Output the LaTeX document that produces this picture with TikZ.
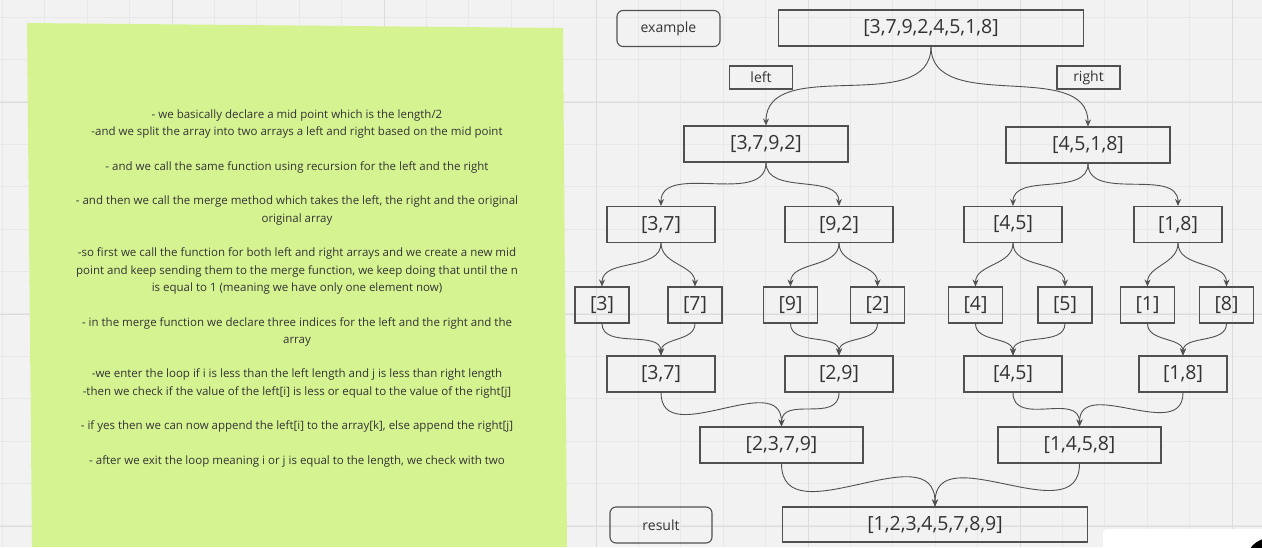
\documentclass[tikz,border=0pt]{standalone}
\usepackage{fontspec}
\setmainfont{Open Sans}
\usetikzlibrary{arrows.meta}
\definecolor{board}{HTML}{F2F2F2}
\definecolor{gridln}{HTML}{E8E8E8}
\definecolor{gridmaj}{HTML}{DCDCDC}
\definecolor{sticky}{HTML}{D5F391}
\definecolor{ink}{HTML}{333333}
\definecolor{edge}{HTML}{505050}

\begin{document}
\begin{tikzpicture}[x=1pt,y=-1pt,
  box/.style={draw=edge,line width=1.1pt,minimum height=36pt,inner sep=0pt,
    text=ink,font=\fontsize{19.5}{22}\selectfont},
  tag/.style={draw=edge,line width=1.1pt,rounded corners=6pt,minimum width=103pt,
    minimum height=36pt,inner sep=0pt,text=ink,font=\fontsize{14}{16}\selectfont},
  side/.style={draw=edge,line width=1.1pt,minimum width=63pt,minimum height=23pt,
    inner sep=0pt,text=ink,font=\fontsize{14}{16}\selectfont},
  note/.style={align=center,inner sep=0pt,anchor=north,text=ink,
    font=\fontsize{11.5}{17.3}\selectfont},
  arr/.style={-{Stealth[length=7pt,width=6pt]},edge,line width=0.9pt,out=-90,in=90}]
\useasboundingbox (0,0) rectangle (1262,547);
\fill[board] (0,0) rectangle (1262,547);
% board grid
\foreach \k in {0,...,29}
  \draw[gridln,line width=0.8pt] ({2.4+42.4*\k},0) -- ({2.4+42.4*\k},547);
\foreach \k in {0,...,12}
  \draw[gridln,line width=0.8pt] (0,{17+42.4*\k}) -- (1262,{17+42.4*\k});
\foreach \k in {0,...,5}
  \draw[gridmaj,line width=0.8pt] ({172+212*\k},0) -- ({172+212*\k},547);
\foreach \k in {0,...,2}
  \draw[gridmaj,line width=0.8pt] (0,{102+212*\k}) -- (1262,{102+212*\k});

% sticky note
\fill[sticky] (27,23) -- (563,28) -- (567,547) -- (32,547) -- cycle;
\node[note] (memo) at (297,109.5) {- we basically declare a mid point which is the length/2\\
-and we split the array into two arrays a left and right based on the mid point\\[17.3pt]
- and we call the same function using recursion for the left and the right\\[17.3pt]
- and then we call the merge method which takes the left, the right and the original\\
original array\\[17.3pt]
-so first we call the function for both left and right arrays and we create a new mid\\
point and keep sending them to the merge function, we keep doing that until the n\\
is equal to 1 (meaning we have only one element now)\\[17.3pt]
- in the merge function we declare three indices for the left and the right and the\\
array\\[17.3pt]
-we enter the loop if i is less than the left length and j is less than right length\\
-then we check if the value of the left[i] is less or equal to the value of the right[j]\\[17.3pt]
- if yes then we can now append the left[i] to the array[k], else append the right[j]\\[17.3pt]
- after we exit the loop meaning i or j is equal to the length, we check with two};

% split
\node[tag] (ex) at (668.5,28.5) {example};
\node[box,minimum width=305pt] (root) at (931,28) {[3,7,9,2,4,5,1,8]};
\node[side] (lefttag) at (761,77.5) {left};
\node[side] (righttag) at (1088.5,77.5) {right};
\node[box,minimum width=164pt] (l) at (766,144) {[3,7,9,2]};
\node[box,minimum width=164pt] (r) at (1088,145) {[4,5,1,8]};
\node[box,minimum width=108pt] (ll) at (661,224.5) {[3,7]};
\node[box,minimum width=108pt] (lr) at (839,224.5) {[9,2]};
\node[box,minimum width=98pt] (rl) at (1013,224.5) {[4,5]};
\node[box,minimum width=88pt] (rr) at (1178,224.5) {[1,8]};
\node[box,minimum width=54pt] (a3) at (602,305) {[3]};
\node[box,minimum width=54pt] (a7) at (695,305) {[7]};
\node[box,minimum width=54pt] (a9) at (790.5,305) {[9]};
\node[box,minimum width=54pt] (a2) at (877.5,305) {[2]};
\node[box,minimum width=54pt] (a4) at (975.5,305) {[4]};
\node[box,minimum width=54pt] (a5) at (1065,305) {[5]};
\node[box,minimum width=54pt] (a1) at (1147.5,305) {[1]};
\node[box,minimum width=54pt] (a8) at (1226.5,305) {[8]};
% merge
\node[box,minimum width=108pt] (m37) at (661,374) {[3,7]};
\node[box,minimum width=108pt] (m29) at (839,374) {[2,9]};
\node[box,minimum width=98pt] (m45) at (1013,374) {[4,5]};
\node[box,minimum width=88pt] (m18) at (1183,374) {[1,8]};
\node[box,minimum width=163pt] (ml) at (781.5,445) {[2,3,7,9]};
\node[box,minimum width=163pt] (mr) at (1079.5,445) {[1,4,5,8]};
\node[tag,minimum width=102pt] (restag) at (661,525) {result};
\node[box,minimum width=305pt,minimum height=35pt] (res) at (935,524.5) {[1,2,3,4,5,7,8,9]};

\draw[arr] (root.south) to (l.north);
\draw[arr] (root.south) to (r.north);
\draw[arr] (l.south) to (ll.north);
\draw[arr] (l.south) to (lr.north);
\draw[arr] (r.south) to (rl.north);
\draw[arr] (r.south) to (rr.north);
\draw[arr] (ll.south) to (a3.north);
\draw[arr] (ll.south) to (a7.north);
\draw[arr] (lr.south) to (a9.north);
\draw[arr] (lr.south) to (a2.north);
\draw[arr] (rl.south) to (a4.north);
\draw[arr] (rl.south) to (a5.north);
\draw[arr] (rr.south) to (a1.north);
\draw[arr] (rr.south) to (a8.north);
\draw[arr] (a3.south) to (m37.north);
\draw[arr] (a7.south) to (m37.north);
\draw[arr] (a9.south) to (m29.north);
\draw[arr] (a2.south) to (m29.north);
\draw[arr] (a4.south) to (m45.north);
\draw[arr] (a5.south) to (m45.north);
\draw[arr] (a1.south) to (m18.north);
\draw[arr] (a8.south) to (m18.north);
\draw[arr,looseness=1.2] (m37.south) to (ml.north);
\draw[arr,looseness=1.2] (m29.south) to (ml.north);
\draw[arr,looseness=1.2] (m45.south) to (mr.north);
\draw[arr,looseness=1.2] (m18.south) to (mr.north);
\draw[arr,looseness=1.2] (ml.south) to (res.north);
\draw[arr,looseness=1.2] (mr.south) to (res.north);

% screen corner
\fill[white,rounded corners=3pt] (1103,529) rectangle (1280,560);
\fill[black] (1270,562) circle (24);
\end{tikzpicture}
\end{document}
